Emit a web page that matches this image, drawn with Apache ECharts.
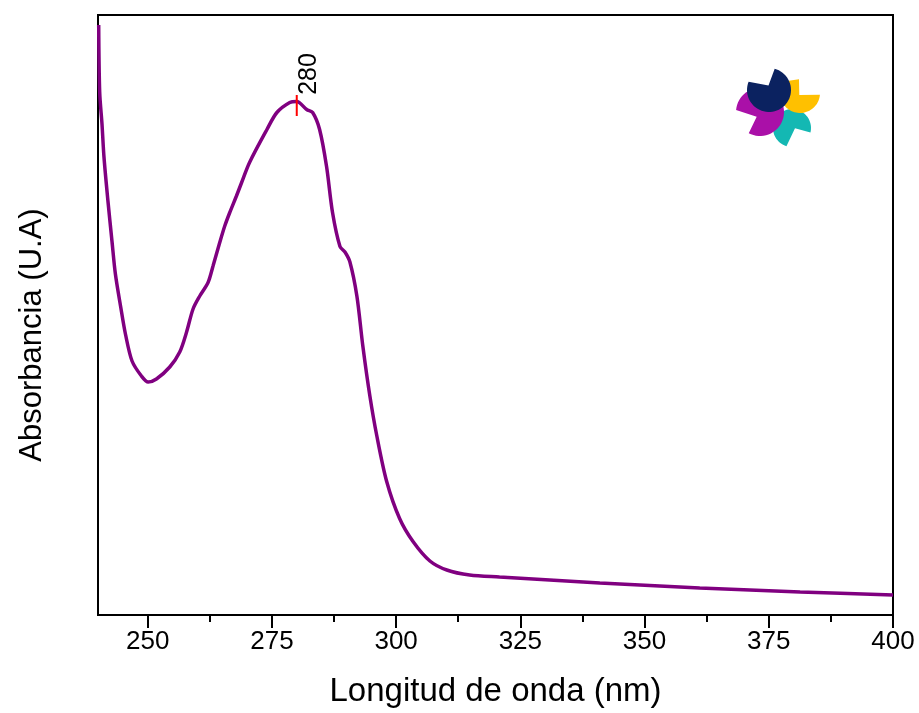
<!DOCTYPE html>
<html>
<head>
<meta charset="utf-8">
<script src="https://cdn.jsdelivr.net/npm/echarts@6/dist/echarts.min.js"></script>
<style>
  html, body { margin: 0; padding: 0; background: #fff; }
  #chart { width: 919px; height: 713px; }
</style>
</head>
<body>
<div id="chart"></div>
<script>
// UV-Vis absorption spectrum
const wavelength = [
  240.14, 240.34, 240.81, 241.21, 242.01, 242.82, 243.50, 244.57, 245.52, 246.85,
  248.74, 250.10, 251.76, 254.44, 256.45, 257.80, 259.13, 260.48, 262.15, 263.15,
  264.50, 265.51, 266.52, 267.86, 268.87, 270.50, 274.00, 276.00, 278.60, 280.00,
  282.00, 283.20, 284.60, 286.00, 287.20, 288.70, 289.70, 290.70, 292.10, 293.30,
  294.70, 296.10, 298.10, 300.70, 303.40, 306.80, 310.20, 314.80, 320.80, 341.00,
  361.10, 381.30, 400.00
];
const absorbance = [
  1.180, 1.046, 0.981, 0.915, 0.827, 0.747, 0.682, 0.616, 0.562, 0.508,
  0.478, 0.466, 0.472, 0.496, 0.526, 0.565, 0.612, 0.638, 0.665, 0.698,
  0.745, 0.778, 0.805, 0.838, 0.864, 0.905, 0.971, 1.005, 1.025, 1.027,
  1.011, 1.005, 0.971, 0.897, 0.805, 0.737, 0.726, 0.706, 0.638, 0.538,
  0.439, 0.359, 0.267, 0.193, 0.147, 0.108, 0.090, 0.080, 0.076, 0.064,
  0.054, 0.046, 0.040
];
const majorTicks = [250, 275, 300, 325, 350, 375, 400];
const minorTicks = [262.5, 287.5, 312.5, 337.5, 362.5, 387.5];
const peakWavelength = 280;

const peakIndex = wavelength.indexOf(peakWavelength);
const peakAbsorbance = absorbance[peakIndex];
const seriesData = wavelength.map((w, i) => [w, absorbance[i]]);

const FONT = '"Liberation Sans", Arial, sans-serif';

const chart = echarts.init(document.getElementById('chart'), null, { renderer: 'canvas' });

// pinwheel emblem: each petal is a disc with a wedge cut out of it
function petal(cx, cy, r, a0, a1, corners, color) {
  const pts = [];
  const steps = 48;
  for (let k = 0; k <= steps; k++) {
    const a = (a0 + (a1 - a0) * k / steps) * Math.PI / 180;
    pts.push([cx + r * Math.cos(a), cy + r * Math.sin(a)]);
  }
  corners.forEach(p => pts.push(p));
  return {
    type: 'polygon',
    shape: { points: pts },
    style: { fill: color },
    silent: true
  };
}

chart.setOption({
  animation: false,
  backgroundColor: '#ffffff',
  grid: {
    left: 98, right: 26, top: 15, bottom: 96,
    show: true, borderColor: '#000', borderWidth: 2, backgroundColor: 'transparent'
  },
  xAxis: [
    {
      type: 'value', min: 240, max: 400, position: 'bottom',
      name: 'Longitud de onda (nm)', nameLocation: 'middle', nameGap: 60,
      nameTextStyle: { fontFamily: FONT, fontSize: 33, color: '#000' },
      axisLine: { show: true, onZero: false, lineStyle: { color: '#000', width: 2 } },
      axisTick: { show: true, length: 13, lineStyle: { color: '#000', width: 2 }, customValues: majorTicks },
      axisLabel: { show: true, margin: 14, fontFamily: FONT, fontSize: 26, color: '#000', customValues: majorTicks },
      splitLine: { show: false }
    },
    {
      type: 'value', min: 240, max: 400, position: 'bottom',
      axisLine: { show: false, onZero: false },
      axisTick: { show: true, length: 7, lineStyle: { color: '#000', width: 2 }, customValues: minorTicks },
      axisLabel: { show: false },
      splitLine: { show: false }
    }
  ],
  yAxis: {
    type: 'value', min: 0, max: 1.2,
    name: 'Absorbancia (U.A)', nameLocation: 'middle', nameGap: 50,
    nameTextStyle: { fontFamily: FONT, fontSize: 31, color: '#000', padding: [0, 40, 0, 0] },
    axisLine: { show: true, onZero: false, lineStyle: { color: '#000', width: 2 } },
    axisTick: { show: false },
    axisLabel: { show: false },
    splitLine: { show: false }
  },
  series: [{
    type: 'line',
    xAxisIndex: 0,
    data: seriesData,
    smooth: 0.3,
    showSymbol: false,
    lineStyle: { color: '#800080', width: 3.5 },
    markPoint: {
      silent: true,
      data: [{
        coord: [peakWavelength, peakAbsorbance],
        symbol: 'rect',
        symbolSize: [2, 21],
        symbolOffset: [0, 4],
        itemStyle: { color: '#ff0000' },
        label: {
          show: true,
          formatter: String(peakWavelength),
          position: [13, -21],
          align: 'center',
          verticalAlign: 'middle',
          rotate: 90,
          fontFamily: FONT,
          fontSize: 25,
          color: '#000'
        }
      }]
    }
  }],
  graphic: [
    petal(792, 128, 19, 107, 374, [[795, 128.3]], '#14b8b3'),
    petal(760, 112, 24, 185, 478, [[756.7, 116.7]], '#aa10a8'),
    petal(800, 93, 20, 5, 215, [[799, 79.3], [799.3, 95]], '#ffc000'),
    petal(769, 90, 22, -75, 202, [[768.5, 85.5]], '#0b2260')
  ]
});
</script>
</body>
</html>
